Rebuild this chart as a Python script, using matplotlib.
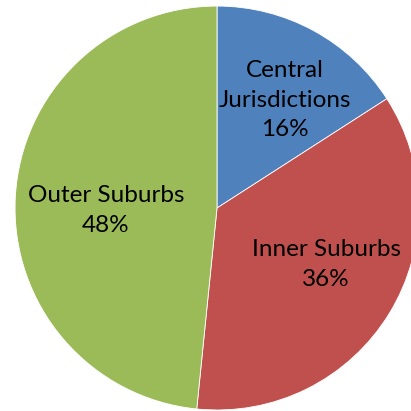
import matplotlib.pyplot as plt
import numpy as np

# Data
categories = ['Central\nJurisdictions', 'Inner Suburbs', 'Outer Suburbs']
shares = [15.9, 35.7, 48.4]
colors = ['#4F81BD', '#C0504D', '#9BBB59']

# label anchor points (radius, angle in degrees) picked to match the layout
label_pos = [(0.63, 58), (0.608, -27.4), (0.55, 181.3)]

fig = plt.figure(figsize=(4.11, 4.11), dpi=100)
ax = fig.add_axes([0, 0, 1, 1])

wedges, _ = ax.pie(shares, colors=colors, startangle=90, counterclock=False,
                   radius=1.0, wedgeprops=dict(edgecolor='white', linewidth=0.6))

for cat, val, (r, ang) in zip(categories, shares, label_pos):
    a = np.deg2rad(ang)
    ax.text(r * np.cos(a), r * np.sin(a), f'{cat}\n{val:.0f}%', ha='center', va='center',
            fontsize=17.5, family='Lato', linespacing=1.5, color='black')

ax.set_xlim(-1.074, 0.960)
ax.set_ylim(-1.005, 1.030)
ax.set_aspect('equal')
ax.axis('off')

fig.savefig('out.png', dpi=100)
